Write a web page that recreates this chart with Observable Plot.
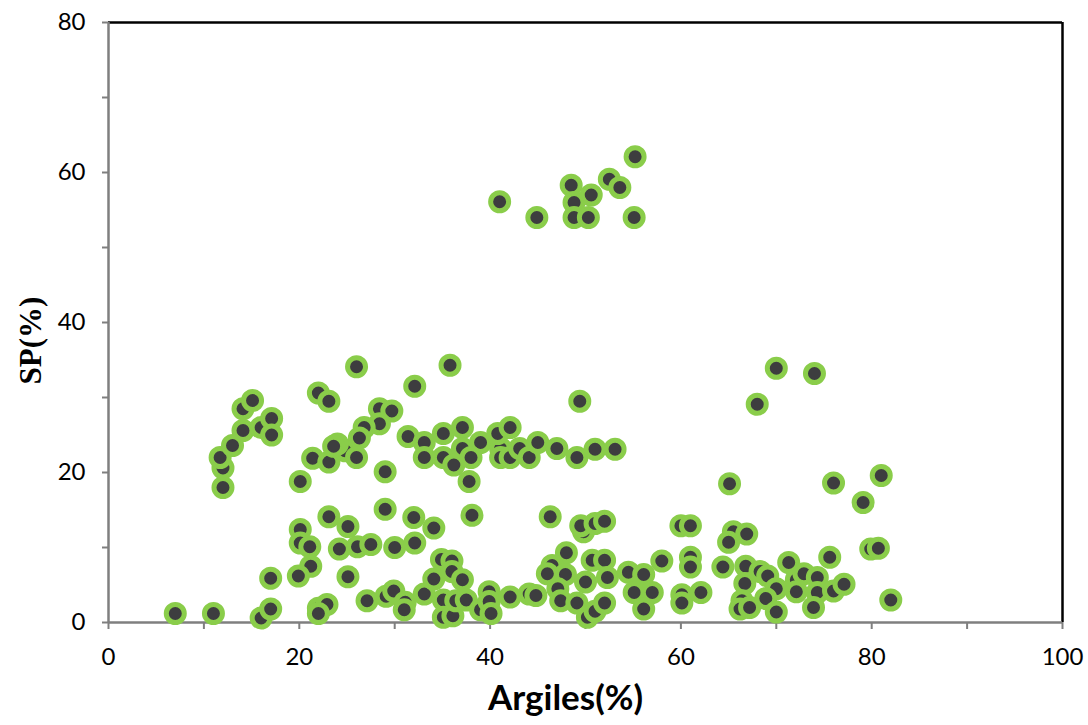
<!DOCTYPE html>
<html>
<head>
<meta charset="utf-8">
<script src="https://cdn.jsdelivr.net/npm/d3@7"></script>
<script src="https://cdn.jsdelivr.net/npm/@observablehq/plot@0.6"></script>
<style>
  html, body { margin: 0; padding: 0; background: #ffffff; }
  #chart { width: 1088px; height: 725px; }
</style>
</head>
<body>
<div id="chart"></div>
<script>
// Argiles (%) values
const argiles = [
  7.0, 11.0, 16.0, 17.0, 17.0, 12.0, 12.0, 11.7, 13.0, 14.1, 14.1, 15.1, 16.0, 17.1, 17.1,
  20.1, 21.4, 23.1, 22.0, 23.1, 26.0, 32.1, 28.4, 29.7, 28.4, 26.8, 26.3, 24.8, 24.0, 23.6,
  26.0, 29.0, 31.4, 33.1, 33.1, 35.1, 35.1, 35.8,
  37.1, 37.1, 36.2, 39.0, 38.0, 37.8, 41.1, 40.8, 42.1, 41.1, 42.1, 43.1, 44.1, 45.0, 47.0,
  49.1, 51.0, 53.1, 49.4,
  65.1, 70.0, 74.0, 68.0, 76.0, 81.0, 79.1,
  41.0, 44.9, 48.5, 48.8, 48.8, 50.6, 50.3, 52.5, 53.6, 55.2, 55.1,
  23.1, 20.1, 20.1, 21.1, 25.1, 24.2, 26.1, 27.5, 29.0, 30.0, 32.1, 32.0, 34.1, 38.1, 46.3,
  49.8, 49.5, 51.0, 52.0, 60.0, 61.0, 65.5, 65.0, 66.9, 79.9, 80.7,
  21.2, 19.9, 25.1, 22.0, 22.9, 22.0, 27.1, 29.1, 29.9, 31.1, 31.0, 33.1, 34.1, 34.9, 36.0,
  36.0, 37.1, 35.1, 35.1, 36.1, 36.4, 37.5, 39.0, 39.9, 39.9, 40.1, 42.1, 44.1, 44.8, 48.0,
  46.5, 46.0, 47.9, 47.1, 47.4, 49.1, 50.0, 50.7, 52.0, 52.3, 50.2, 51.0, 52.0, 54.5, 56.1,
  55.1, 57.0, 56.1, 58.0, 60.1, 60.1, 62.1, 61.0, 61.0, 64.4, 66.8, 66.7, 66.4, 66.2, 67.2,
  68.3, 69.1, 70.0, 68.9, 70.0, 71.3, 72.1, 72.9, 74.3, 72.1, 74.3, 76.0, 77.1, 73.9, 75.6,
  82.0
];
// SP (%) values
const sp = [
  1.2, 1.2, 0.6, 1.8, 5.9, 18.0, 20.6, 22.0, 23.6, 25.6, 28.5, 29.6, 26.0, 27.2, 25.0,
  18.8, 21.9, 21.4, 30.6, 29.5, 34.1, 31.5, 28.5, 28.2, 26.5, 26.0, 24.6, 22.9, 23.8, 23.5,
  22.0, 20.1, 24.8, 24.0, 22.0, 22.0, 25.2, 34.3,
  26.0, 23.2, 21.0, 24.0, 22.0, 18.8, 23.2, 25.2, 26.0, 22.0, 22.0, 23.2, 22.0, 24.0, 23.2,
  22.0, 23.1, 23.1, 29.5,
  18.5, 33.9, 33.2, 29.1, 18.6, 19.6, 16.0,
  56.1, 54.0, 58.3, 56.0, 54.0, 57.0, 54.0, 59.1, 58.0, 62.1, 54.0,
  14.1, 12.4, 10.6, 10.1, 12.8, 9.8, 10.1, 10.4, 15.1, 10.0, 10.6, 14.0, 12.6, 14.3, 14.1,
  12.1, 12.9, 13.2, 13.5, 12.9, 12.9, 12.1, 10.7, 11.8, 9.8, 9.9,
  7.5, 6.2, 6.1, 1.9, 2.4, 1.2, 2.9, 3.5, 4.2, 2.7, 1.7, 3.8, 5.8, 8.4, 8.2,
  6.8, 5.7, 3.0, 0.7, 0.9, 2.9, 3.0, 1.7, 4.1, 2.8, 1.2, 3.4, 3.8, 3.6, 9.3,
  7.6, 6.5, 6.4, 4.5, 2.9, 2.6, 5.4, 8.3, 8.3, 6.0, 0.7, 1.5, 2.6, 6.7, 6.4,
  4.0, 4.0, 1.8, 8.2, 3.7, 2.6, 4.0, 8.7, 7.4, 7.4, 7.5, 5.2, 2.9, 1.8, 2.0,
  6.8, 6.2, 4.5, 3.2, 1.4, 8.0, 5.7, 6.5, 6.0, 4.1, 4.0, 4.2, 5.1, 2.0, 8.7,
  3.0
];
const xTicks = [0, 10, 20, 30, 40, 50, 60, 70, 80, 90, 100];
const yTicks = [0, 10, 20, 30, 40, 50, 60, 70, 80];
const xTitle = "Argiles(%)";
const yTitle = "SP(%)";

const data = argiles.map((a, i) => ({argiles: a, sp: sp[i]}));

const chart = Plot.plot({
  width: 1088,
  height: 725,
  marginLeft: 108,
  marginRight: 26,
  marginTop: 22,
  marginBottom: 103,
  style: {background: "#ffffff", color: "#000000", fontFamily: "Lato, sans-serif"},
  x: {domain: [0, 100]},
  y: {domain: [0, 80]},
  marks: [
    Plot.axisX({ticks: xTicks, tickFormat: d => d % 20 === 0 ? String(d) : "", tickSize: 7, tickPadding: 18,
      fontSize: 24, label: null, stroke: "#7f7f7f", strokeWidth: 2}),
    Plot.axisY({ticks: yTicks, tickFormat: d => d % 20 === 0 ? String(d) : "", tickSize: 6, tickPadding: 17,
      fontSize: 24, label: null, stroke: "#7f7f7f", strokeWidth: 2}),
    Plot.ruleY([80], {stroke: "#000000", strokeWidth: 2.5}),
    Plot.ruleX([100], {stroke: "#000000", strokeWidth: 2.5}),
    Plot.ruleX([0], {stroke: "#7f7f7f", strokeWidth: 2.5}),
    Plot.ruleY([0], {stroke: "#7f7f7f", strokeWidth: 2.5}),
    Plot.dot(data, {x: "argiles", y: "sp", r: 9, fill: "#3d3d3f", stroke: "#8acd4a", strokeWidth: 5}),
    Plot.text([xTitle], {frameAnchor: "bottom", dx: -20, dy: 87, fontSize: 35, fontWeight: "bold", fill: "#000000"}),
    Plot.text([yTitle], {frameAnchor: "left", textAnchor: "middle", dx: -77, dy: 18, rotate: -90, fontSize: 31,
      fontWeight: "bold", fontFamily: "Liberation Serif, serif", fill: "#000000"})
  ]
});
document.getElementById("chart").appendChild(chart);
</script>
</body>
</html>
